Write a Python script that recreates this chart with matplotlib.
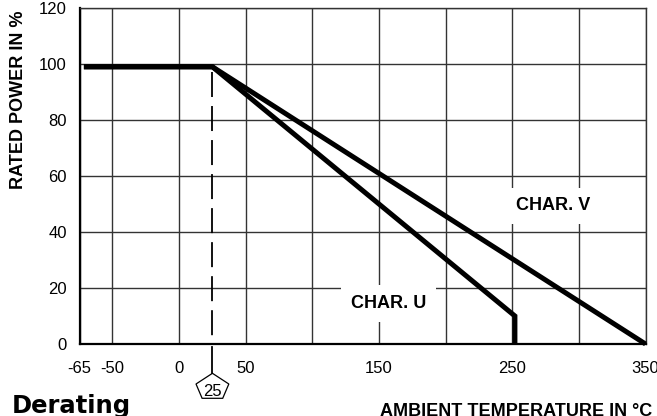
import numpy as np
import matplotlib
matplotlib.use("Agg")
import matplotlib.pyplot as plt
from matplotlib import transforms
from matplotlib.patches import Polygon

plt.rcParams['font.family'] = ['Liberation Sans', 'DejaVu Sans']
plt.rcParams['lines.scale_dashes'] = False

# ---- data ----
temp_u = [-63, 25, 252, 252]
power_u = [99, 99, 10, 0]
temp_v = [-63, 25, 350]
power_v = [99, 99, 0]
knee_temp = 25
xtick_vals = [-65, -50, 0, 50, 150, 250, 350]
xtick_labels = ['-65', '-50', '0', '50', '150', '250', '350']
xminor_vals = [100, 200, 300]
ytick_vals = [0, 20, 40, 60, 80, 100, 120]

W, H = 657, 416
fig = plt.figure(figsize=(W / 100, H / 100), dpi=100)
L, R, T, B = 79.5, 645.5, 8, 344
ax = fig.add_axes([L / W, 1 - B / H, (R - L) / W, (B - T) / H])

K = 1.65
def fwd(x):
    x = np.asarray(x, dtype=float)
    return np.where(x < -50, -50 + (x + 50) * K, x)
def inv(y):
    y = np.asarray(y, dtype=float)
    return np.where(y < -50, -50 + (y + 50) / K, y)
ax.set_xscale('function', functions=(fwd, inv))
ax.set_xlim(-65, 350)
ax.set_ylim(0, 120)

ax.set_xticks(xtick_vals)
ax.set_xticklabels(xtick_labels)
ax.set_xticks(xminor_vals, minor=True)
ax.set_yticks(ytick_vals)
ax.tick_params(axis='both', which='both', length=0, labelsize=12, colors='black')
ax.tick_params(axis='x', pad=12)
ax.tick_params(axis='y', pad=9)
ax.grid(True, which='both', color='#333333', linewidth=1.0, zorder=1)
ax.set_axisbelow(True)

for s in ['top', 'right']:
    ax.spines[s].set_linewidth(1.0)
    ax.spines[s].set_color('#333333')
for s in ['left', 'bottom']:
    ax.spines[s].set_linewidth(1.6)
    ax.spines[s].set_color('black')

# dashed knee line
ax.plot([knee_temp, knee_temp], [97, 0], color='black', lw=1.3,
        linestyle=(0, (18, 6.5)), zorder=3)

ax.plot(temp_u, power_u, color='black', lw=3.6, solid_joinstyle='miter',
        solid_capstyle='butt', zorder=4, clip_on=False)
ax.plot(temp_v, power_v, color='black', lw=3.6, solid_joinstyle='miter',
        solid_capstyle='butt', zorder=4, clip_on=False)

box = dict(boxstyle='square,pad=0.55', facecolor='white', edgecolor='none')
ax.text(157, 14.5, 'CHAR. U', fontsize=13, fontweight='bold', ha='center',
        va='center', bbox=box, zorder=2)
ax.text(280.5, 49.3, 'CHAR. V', fontsize=13, fontweight='bold', ha='center',
        va='center', bbox=box, zorder=2)

# pentagon marker below the axis at 25
blend = transforms.blended_transform_factory(ax.transData, ax.transAxes)
ptrans = transforms.IdentityTransform() + transforms.ScaledTranslation(knee_temp, 0, blend)
ax.plot([0, 0], [-3, -29.3], color='black', lw=1.3, transform=ptrans, clip_on=False)
pent = Polygon([(0, -29.3), (16.4, -40), (10.3, -54.3), (-10.3, -54.3), (-16.4, -40)],
               closed=True, facecolor='white', edgecolor='black', lw=0.9,
               transform=ptrans, clip_on=False)
ax.add_patch(pent)
ax.text(0, -47, '25', fontsize=12, ha='center', va='center', transform=ptrans,
        clip_on=False)

fig.text(18.5 / W, 1 - 100 / H, 'RATED POWER IN %', rotation=90, fontsize=13,
         fontweight='bold', ha='center', va='center')
fig.text(380 / W, 1 - 415.5 / H, 'AMBIENT TEMPERATURE IN °C', fontsize=13,
         fontweight='bold', ha='left', va='baseline')
fig.text(11.7 / W, 1 - 412.7 / H, 'Derating', fontsize=17.5, fontweight='bold',
         family=['DejaVu Sans'], ha='left', va='baseline')

fig.savefig('out.png', dpi=100)
